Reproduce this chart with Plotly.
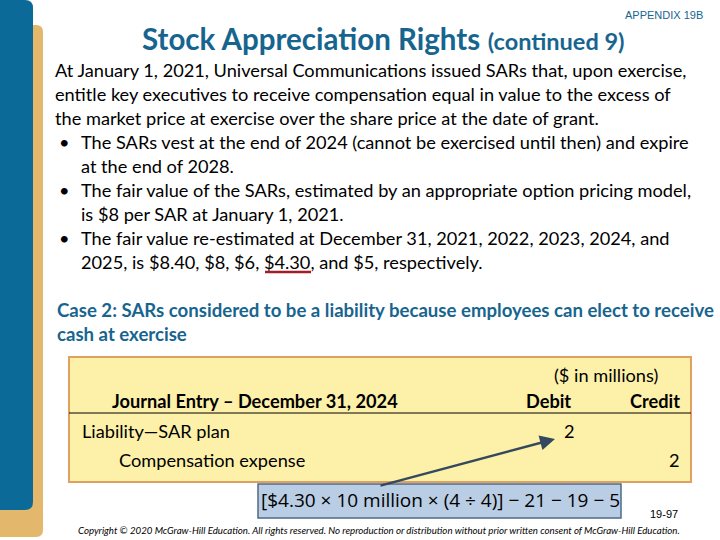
import plotly.graph_objects as go

# ---- content ----
appendix_label = "APPENDIX 19B"
title_main = "Stock Appreciation Rights"
title_sub = "(continued 9)"
fair_value_years = [2021, 2022, 2023, 2024, 2025]
fair_values = ["$8.40", "$8", "$6", "$4.30", "$5"]
intro_lines = [
    "At January 1, 2021, Universal Communications issued SARs that, upon exercise,",
    "entitle key executives to receive compensation equal in value to the excess of",
    "the market price at exercise over the share price at the date of grant.",
]
bullet_lines = [
    ["The SARs vest at the end of 2024 (cannot be exercised until then) and expire",
     "at the end of 2028."],
    ["The fair value of the SARs, estimated by an appropriate option pricing model,",
     "is $8 per SAR at January 1, 2021."],
    ["The fair value re-estimated at December 31, 2021, 2022, 2023, 2024, and",
     "2025, is $8.40, $8, $6, $4.30, and $5, respectively."],
]
case_lines = ["Case 2: SARs considered to be a liability because employees can elect to receive",
              "cash at exercise"]
units_label = "($ in millions)"
entry_header = "Journal Entry – December 31, 2024"
col_headers = ["Debit", "Credit"]
accounts = ["Liability—SAR plan", "Compensation expense"]
debits = ["2", ""]
credits = ["", "2"]
formula = "[$4.30 × 10 million × (4 ÷ 4)] − 21 − 19 − 5"
page_no = "19-97"
copyright_text = ("Copyright © 2020 McGraw-Hill Education. All rights reserved. No reproduction or "
                  "distribution without prior written consent of McGraw-Hill Education.")

BODY_FONT = "Lato"
TEAL = "#17658f"
BODY = 18.2


def rr(x0, y0, x1, y1, r):
    return (f"M {x0+r},{y0} L {x1-r},{y0} Q {x1},{y0} {x1},{y0+r} "
            f"L {x1},{y1-r} Q {x1},{y1} {x1-r},{y1} L {x0+r},{y1} "
            f"Q {x0},{y1} {x0},{y1-r} L {x0},{y0+r} Q {x0},{y0} {x0+r},{y0} Z")


fig = go.Figure()
shapes = []
ann = []

# side bars
shapes.append(dict(type="path", path=rr(-20, 25, 43, 537, 7), fillcolor="#e3b86c",
                   line=dict(width=0), layer="below"))
shapes.append(dict(type="path", path=rr(-20, 0, 33, 510, 8), fillcolor="#0b6a98",
                   line=dict(width=0), layer="below"))

# header
ann.append(dict(x=705, y=15, text=appendix_label, xanchor="right", yanchor="middle",
                font=dict(family="Liberation Sans", size=11, color=TEAL)))
ann.append(dict(x=140, y=38, xanchor="left", yanchor="middle",
                text=f"<b>{title_main}</b> <b><span style='font-size:23.5px'>{title_sub}</span></b>",
                font=dict(family=BODY_FONT, size=29.5, color=TEAL)))

y = 70
for line in intro_lines:
    ann.append(dict(x=53, y=y, text=line, xanchor="left", yanchor="middle",
                    font=dict(family=BODY_FONT, size=BODY, color="black")))
    y += 24
for bl in bullet_lines:
    ann.append(dict(x=57, y=y, text="•", xanchor="left", yanchor="middle",
                    font=dict(family=BODY_FONT, size=BODY, color="black")))
    for line in bl:
        ann.append(dict(x=79, y=y, text=line, xanchor="left", yanchor="middle",
                        font=dict(family=BODY_FONT, size=BODY, color="black")))
        y += 24

# underline under $4.30
shapes.append(dict(type="line", x0=265, x1=311, y0=272, y1=272,
                   line=dict(color="#a51d24", width=2.5)))

# case heading
for i, line in enumerate(case_lines):
    ann.append(dict(x=55, y=310 + 24 * i, text=f"<b>{line}</b>", xanchor="left", yanchor="middle",
                    font=dict(family=BODY_FONT, size=18.6, color=TEAL)))

# journal entry box
shapes.append(dict(type="rect", x0=69, x1=691, y0=357, y1=482, fillcolor="#fdf1a9",
                   line=dict(color="#e0a060", width=2), layer="below"))
shapes.append(dict(type="line", x0=69, x1=691, y0=413, y1=413, line=dict(color="black", width=1)))
ann.append(dict(x=606, y=375, text=units_label, xanchor="center", yanchor="middle",
                font=dict(family=BODY_FONT, size=BODY, color="black")))
ann.append(dict(x=110, y=401, text=f"<b>{entry_header}</b>", xanchor="left", yanchor="middle",
                font=dict(family=BODY_FONT, size=BODY, color="black")))
ann.append(dict(x=548, y=401, text=f"<b>{col_headers[0]}</b>", xanchor="center", yanchor="middle",
                font=dict(family=BODY_FONT, size=BODY, color="black")))
ann.append(dict(x=682, y=401, text=f"<b>{col_headers[1]}</b>", xanchor="right", yanchor="middle",
                font=dict(family=BODY_FONT, size=BODY, color="black")))
row_y = [431, 460]
row_x = [80, 117]
for acc, d, c, yy, xx in zip(accounts, debits, credits, row_y, row_x):
    ann.append(dict(x=xx, y=yy, text=acc, xanchor="left", yanchor="middle",
                    font=dict(family=BODY_FONT, size=BODY, color="black")))
    if d:
        ann.append(dict(x=577, y=yy, text=d, xanchor="right", yanchor="middle",
                        font=dict(family=BODY_FONT, size=BODY, color="black")))
    if c:
        ann.append(dict(x=682, y=yy, text=c, xanchor="right", yanchor="middle",
                        font=dict(family=BODY_FONT, size=BODY, color="black")))

# formula box
shapes.append(dict(type="rect", x0=258, x1=621, y0=484, y1=518, fillcolor="#b9cde4",
                   line=dict(color="#4e6a88", width=1.5), layer="below"))
ann.append(dict(x=440, y=500, text=formula, xanchor="center", yanchor="middle",
                font=dict(family="Open Sans", size=19, color="black")))

# arrow
ann.append(dict(x=555, y=439, ax=379, ay=486, xref="x", yref="y", axref="x", ayref="y",
                text="", showarrow=True, arrowhead=2, arrowsize=1.2, arrowwidth=2.5,
                arrowcolor="#35495e"))

ann.append(dict(x=680, y=514, text=page_no, xanchor="right", yanchor="middle",
                font=dict(family="Liberation Sans", size=11, color="black")))
ann.append(dict(x=379, y=530, text=f"<i>{copyright_text}</i>", xanchor="center", yanchor="middle",
                font=dict(family=BODY_FONT, size=9.7, color="black")))

for a in ann:
    a.setdefault("showarrow", False)
    a.setdefault("xref", "x")
    a.setdefault("yref", "y")

fig.update_layout(
    width=720, height=540, margin=dict(l=0, r=0, t=0, b=0),
    paper_bgcolor="white", plot_bgcolor="white",
    xaxis=dict(range=[0, 720], visible=False, fixedrange=True),
    yaxis=dict(range=[540, 0], visible=False, fixedrange=True),
    shapes=shapes, annotations=ann, showlegend=False,
)
fig.write_html("out.html", config={"displayModeBar": False},
               post_script="document.body.style.margin='0';document.body.style.overflow='hidden';")
